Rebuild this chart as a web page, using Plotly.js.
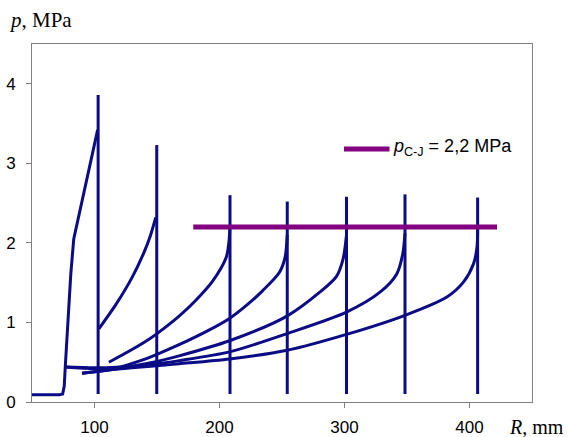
<!DOCTYPE html>
<html>
<head>
<meta charset="utf-8">
<script src="https://cdn.plot.ly/plotly-3.0.1.min.js"></script>
<style>html,body{margin:0;padding:0;background:#fff}#chart{width:571px;height:437px}</style>
</head>
<body>
<div id="chart"></div>
<script>
// Pressure profiles p(R) at successive times, R in mm, p in MPa
const prof1R = [50, 72, 74.5, 75.8, 76.6, 78, 79.5, 81, 83.4, 102.5];
const prof1P = [0.09, 0.09, 0.10, 0.20, 0.44, 0.80, 1.20, 1.60, 2.05, 3.42];

const prof2R = [103.5, 116.9, 130.2, 139.6, 144.5, 149.0];
const prof2P = [0.92, 1.22, 1.57, 1.88, 2.08, 2.32];

const prof3R = [111.5, 130, 143.6, 150, 167.7, 181.1, 194.5, 205.4, 207.6, 208.3];
const prof3P = [0.50, 0.66, 0.79, 0.86, 1.08, 1.28, 1.52, 1.82, 2.02, 2.20];

const prof4R = [76.5, 100, 120, 135, 150, 167.7, 190, 208, 222, 234.6, 248, 252.5, 254.2];
const prof4P = [0.44, 0.43, 0.44, 0.51, 0.60, 0.72, 0.89, 1.05, 1.22, 1.40, 1.63, 1.82, 2.10];

const prof5R = [76.5, 100, 120, 150, 167.7, 208, 254, 280.2, 293.6, 298.9, 301.6];
const prof5P = [0.44, 0.42, 0.43, 0.51, 0.58, 0.77, 1.08, 1.38, 1.58, 1.80, 2.10];

const prof6R = [90, 110, 130, 150, 167.7, 208, 254, 301.6, 328.4, 341.8, 346.6, 348.4];
const prof6P = [0.36, 0.40, 0.44, 0.48, 0.52, 0.63, 0.86, 1.13, 1.38, 1.61, 1.86, 2.12];

const prof7R = [90, 110, 130, 150, 167.7, 208, 254, 301.6, 348.4, 381.9, 395.3, 403.3, 406.0, 406.5];
const prof7P = [0.36, 0.40, 0.43, 0.455, 0.48, 0.54, 0.65, 0.85, 1.09, 1.32, 1.51, 1.74, 1.95, 2.16];

// Shock fronts: position, foot and peak pressure
const frontR = [102.9, 149.8, 208.4, 254.2, 301.6, 348.4, 406.5];
const frontBase = [0.10, 0.10, 0.10, 0.10, 0.10, 0.10, 0.10];
const frontPeak = [3.86, 3.23, 2.60, 2.52, 2.58, 2.61, 2.57];

// Chapman-Jouguet pressure line
const cjR = [179, 422];
const cjP = [2.2, 2.2];
const cjLabel = '<i>p</i><sub>C-J</sub> = 2,2 MPa';

const xTicks = [100, 200, 300, 400];
const yTicks = [0, 1, 2, 3, 4];

const navy = '#0b0b86';
const purple = '#800080';

const traces = [];
function addProfile(R, P, shape) {
  traces.push({x: R, y: P, mode: 'lines', type: 'scatter',
    line: {color: navy, width: 3, shape: shape, smoothing: 0.8},
    hoverinfo: 'skip', showlegend: false});
}
addProfile(prof1R, prof1P, 'linear');
addProfile(prof2R, prof2P, 'spline');
addProfile(prof3R, prof3P, 'spline');
addProfile(prof4R, prof4P, 'spline');
addProfile(prof5R, prof5P, 'spline');
addProfile(prof6R, prof6P, 'spline');
addProfile(prof7R, prof7P, 'spline');
for (let i = 0; i < frontR.length; i++) {
  traces.push({x: [frontR[i], frontR[i]], y: [frontBase[i], frontPeak[i]], mode: 'lines', type: 'scatter',
    line: {color: navy, width: 3}, hoverinfo: 'skip', showlegend: false});
}
traces.push({x: cjR, y: cjP, mode: 'lines', type: 'scatter',
  line: {color: purple, width: 5}, hoverinfo: 'skip', showlegend: false});

const tickFont = {family: 'Liberation Sans, Arial, sans-serif', size: 17, color: '#000'};
const titleFont = {family: 'Liberation Serif, Times New Roman, serif', size: 21, color: '#000'};

const layout = {
  width: 571, height: 437,
  margin: {l: 32, r: 39, t: 44, b: 35, pad: 0},
  paper_bgcolor: '#fff', plot_bgcolor: '#fff',
  showlegend: false,
  xaxis: {range: [50, 450], tickvals: xTicks, ticktext: xTicks.map(String),
    showgrid: false, zeroline: false, showline: true, mirror: true,
    linecolor: '#808080', linewidth: 1, ticks: 'outside', ticklen: 5, tickcolor: '#808080',
    tickfont: tickFont, ticklabelstandoff: 5, fixedrange: true},
  yaxis: {range: [0, 4.5], tickvals: yTicks, ticktext: yTicks.map(String),
    showgrid: false, zeroline: false, showline: true, mirror: true,
    linecolor: '#808080', linewidth: 1, ticks: 'outside', ticklen: 5, tickcolor: '#808080',
    tickfont: tickFont, ticklabelstandoff: 7, fixedrange: true},
  shapes: [{type: 'line', xref: 'paper', yref: 'paper', x0: 0.624, x1: 0.715, y0: 0.7065, y1: 0.7065,
    line: {color: purple, width: 5}}],
  annotations: [
    {xref: 'paper', yref: 'paper', x: 0.718, y: 0.712, xanchor: 'left', yanchor: 'middle',
     text: cjLabel, showarrow: false, font: {family: 'Liberation Sans, Arial, sans-serif', size: 18, color: '#000'}},
    {xref: 'paper', yref: 'paper', x: -0.0507, y: 1.068, xanchor: 'left', yanchor: 'middle',
     text: '<i>p</i>, MPa', showarrow: false, font: titleFont},
    {xref: 'paper', yref: 'paper', x: 0.9506, y: -0.0707, xanchor: 'left', yanchor: 'middle',
     text: '<i>R</i>, mm', showarrow: false, font: {family: 'Liberation Serif, Times New Roman, serif', size: 20, color: '#000'}}
  ]
};

Plotly.newPlot('chart', traces, layout, {staticPlot: true, displayModeBar: false});
</script>
</body>
</html>
